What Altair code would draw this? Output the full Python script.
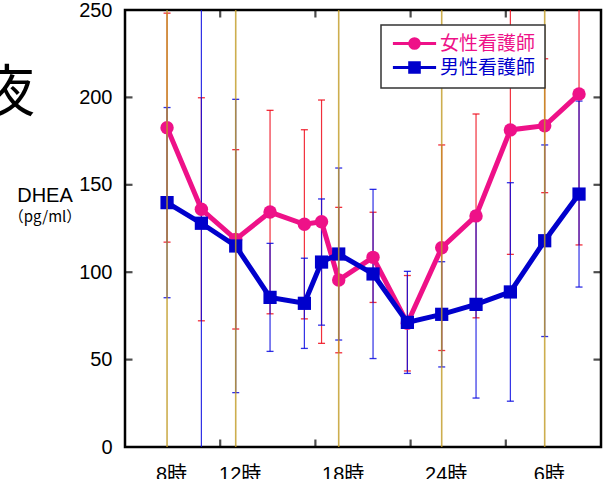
import altair as alt
import pandas as pd

# ---------------- data ----------------
series_names = ["女性看護師", "男性看護師"]
hours = [8, 10, 12, 14, 16, 17, 18, 20, 22, 24, 26, 28, 30, 32]
female_mean = [182.7, 136.0, 118.8, 134.4, 127.4, 128.9, 95.5, 108.5, 70.8, 114.0, 132.2, 181.4, 183.8, 201.9]
female_sd = [65.5, 63.8, 51.3, 58.2, 54.1, 69.6, 41.6, 25.8, 27.3, 58.8, 58.3, 71.2, 38.3, 86.3]
male_mean = [139.8, 128.0, 115.0, 85.6, 82.2, 105.8, 110.4, 99.0, 71.3, 75.9, 81.6, 88.7, 118.0, 144.7]
male_sd = [54.4, 130.0, 83.9, 30.9, 25.8, 36.1, 49.2, 48.4, 29.2, 30.1, 53.6, 62.5, 54.8, 53.2]

label_hours = [8, 12, 18, 24, 30]
label_texts = ["8時", "12時", "18時", "24時", "6時"]
y_ticks = [0, 50, 100, 150, 200, 250]

# ---------------- styling ----------------
XMIN, XMAX = 5.55, 33.28
YMAX = 250
PINK = "#ee1188"
BLUE = "#0000cc"
ERR_F = "#ee0a1a"
ERR_M = "#0a0ae0"
GOLD = "#c09a22"
FONT = "Liberation Sans, Noto Sans CJK JP"

x_scale = alt.Scale(domain=[XMIN, XMAX], nice=False, zero=False)
y_scale = alt.Scale(domain=[0, YMAX], nice=False, zero=True)

label_expr = " : ".join(
    f"datum.value == {h} ? '{t}'" for h, t in zip(label_hours, label_texts)
) + " : ''"

x_axis = alt.Axis(values=label_hours, labelExpr=label_expr, tickSize=0, domain=False,
                  grid=False, labelFontSize=20, labelFont=FONT, labelColor="black",
                  labelPadding=17, labelOffset=4, labelOverlap=False, labelFlush=False,
                  title=None)
y_axis = alt.Axis(values=y_ticks, tickSize=0, domain=False, grid=False,
                  labelFontSize=20, labelFont=FONT, labelColor="black",
                  labelPadding=13, labelOverlap=False, labelFlush=False, title=None)


def X(field):
    return alt.X(f"{field}:Q", scale=x_scale, axis=x_axis)


def Y(field):
    return alt.Y(f"{field}:Q", scale=y_scale, axis=y_axis)


rows = []
for name, means, sds in [(series_names[0], female_mean, female_sd),
                         (series_names[1], male_mean, male_sd)]:
    for h, m, s in zip(hours, means, sds):
        rows.append({"series": name, "hour": h, "mean": m, "lo": m - s, "hi": m + s})
df = pd.DataFrame(rows)

layers = []

# error bars
for name, col in [(series_names[0], ERR_F), (series_names[1], ERR_M)]:
    base = alt.Chart(df).transform_filter(alt.datum.series == name)
    stems = base.mark_rule(color=col, strokeWidth=1.2, opacity=0.85, clip=True).encode(
        x=X("hour"), y=Y("lo"), y2="hi")
    caps = base.transform_fold(["lo", "hi"], as_=["end", "val"]).mark_tick(
        orient="horizontal", color=col, size=7, thickness=1.3, opacity=0.85, clip=True
    ).encode(x=X("hour"), y=Y("val"))
    layers += [stems, caps]

# lines and markers
for name, col, shape, size in [(series_names[0], PINK, "circle", 180),
                               (series_names[1], BLUE, "square", 175)]:
    base = alt.Chart(df).transform_filter(alt.datum.series == name)
    line = base.mark_line(color=col, strokeWidth=5).encode(x=X("hour"), y=Y("mean"))
    pts = base.mark_point(shape=shape, filled=True, color=col, size=size, opacity=1).encode(
        x=X("hour"), y=Y("mean"))
    layers += [line, pts]

# vertical time-of-day lines (drawn on top, like the reference)
vlines = alt.Chart(pd.DataFrame({"hour": label_hours})).mark_rule(
    color=GOLD, strokeWidth=1.6, opacity=0.8).encode(x=X("hour"))
layers.append(vlines)

# inward frame ticks
xt_pos = [XMIN + (XMAX - XMIN) * k / 5 for k in range(1, 5)]
xt_df = pd.DataFrame([{"hour": p, "val": v} for p in xt_pos for v in [0, YMAX]])
yt_df = pd.DataFrame([{"hour": p, "val": v} for p in [XMIN, XMAX] for v in y_ticks[1:-1]])
xt = alt.Chart(xt_df).mark_tick(orient="vertical", color="black", size=15, thickness=2.2,
                                clip=True).encode(x=X("hour"), y=Y("val"))
yt = alt.Chart(yt_df).mark_tick(orient="horizontal", color="black", size=15, thickness=2.2,
                                clip=True).encode(x=X("hour"), y=Y("val"))
layers += [xt, yt]

# legend (built from an empty layer so only the legend is drawn)
circ_path = "M-3.6,0H3.6M0.8,0A0.8,0.8,0,1,1,-0.8,0A0.8,0.8,0,1,1,0.8,0Z"
sq_path = "M-3.6,0H3.6M-0.8,-0.8H0.8V0.8H-0.8Z"
label_color = {"expr": f"datum.label == '{series_names[0]}' ? '{PINK}' : '{BLUE}'"}
leg = alt.Legend(orient="none", legendX=256, legendY=15, title=None,
                 fillColor="white", strokeColor="#333333", padding=9,
                 symbolSize=144, symbolStrokeWidth=3, symbolOpacity=1,
                 symbolOffset=15, labelOffset=16, rowPadding=1,
                 labelFontSize=19, labelFont=FONT, labelColor=label_color)
leg_df = pd.DataFrame({"series": series_names, "hour": [XMIN, XMIN], "mean": [0, 0]})
dummy = alt.Chart(leg_df).transform_filter("false").mark_point(size=144).encode(
    x=X("hour"), y=Y("mean"),
    fill=alt.Fill("series:N", scale=alt.Scale(domain=series_names, range=[PINK, BLUE]), legend=leg),
    stroke=alt.Stroke("series:N", scale=alt.Scale(domain=series_names, range=[PINK, BLUE]), legend=leg),
    shape=alt.Shape("series:N", scale=alt.Scale(domain=series_names, range=[circ_path, sq_path]), legend=leg),
)
layers.append(dummy)

# annotations outside the plot
yoru = alt.Chart(pd.DataFrame({"t": ["夜"]})).mark_text(
    font="Noto Sans CJK JP", fontSize=56, color="black",
    align="center", baseline="middle").encode(
    text="t:N", x=alt.value(-118), y=alt.value(84))
dhea = alt.Chart(pd.DataFrame({"t": ["DHEA"]})).mark_text(
    font=FONT, fontSize=20, color="black", align="center", baseline="middle").encode(
    text="t:N", x=alt.value(-80), y=alt.value(186))
unit = alt.Chart(pd.DataFrame({"t": ["（pg/ml）"]})).mark_text(
    font="Noto Sans CJK JP", fontSize=15, color="black", align="center", baseline="middle").encode(
    text="t:N", x=alt.value(-80), y=alt.value(207))
layers += [yoru, dhea, unit]

chart = alt.layer(*layers).properties(
    width=476, height=437,
    autosize=alt.AutoSizeParams(type="none"),
    padding={"left": 125, "top": 10, "right": 4, "bottom": 32},
).configure_view(stroke="black", strokeWidth=2.5).configure_legend(strokeWidth=1.5)

chart.save("out.html", embed_options={"renderer": "svg", "actions": False})
